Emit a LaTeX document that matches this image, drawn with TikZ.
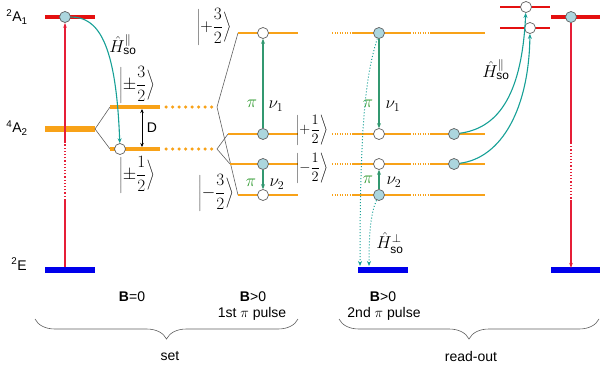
\documentclass[tikz,border=0pt]{standalone}
\usepackage{fontspec}
\setmainfont{Liberation Sans}
\usetikzlibrary{arrows.meta,decorations.pathreplacing,calc}
\pgfdeclarelayer{background}
\pgfsetlayers{background,main}
\definecolor{lvred}{RGB}{228,16,16}
\definecolor{linered}{RGB}{230,30,55}
\definecolor{lvorange}{RGB}{248,162,24}
\definecolor{lvblue}{RGB}{0,0,235}
\definecolor{socolor}{RGB}{22,160,150}
\definecolor{pigreen}{RGB}{50,152,112}
\definecolor{pitext}{RGB}{40,150,40}
\definecolor{dotfill}{RGB}{172,214,222}
\definecolor{fangray}{RGB}{95,95,95}
\begin{document}
\begin{tikzpicture}[x=1pt,y=-1pt,
  lab/.style={font=\fontsize{14}{16}\selectfont,inner sep=0pt},
  ket/.style={font=\fontsize{16}{18}\selectfont,inner sep=0pt},
  smallket/.style={font=\fontsize{14}{16}\selectfont,inner sep=0pt},
  hlab/.style={font=\fontsize{17}{19}\selectfont,inner sep=0pt},
  mlab/.style={font=\fontsize{17}{19}\selectfont,inner sep=0pt},
  fulldot/.style={circle,draw=fangray,fill=dotfill,line width=0.7pt,minimum size=11pt,inner sep=0pt},
  hollowdot/.style={fulldot,fill=white},
  redbar/.style={lvred,line width=4pt},
  bluebar/.style={lvblue,line width=6pt},
  orangebar/.style={lvorange,line width=6pt},
  levone/.style={lvorange,line width=4pt},
  bigdots/.style={lvorange,line width=3.5pt,line cap=round,dash pattern=on 0pt off 6.5pt},
  levtwo/.style={lvorange,line width=2.3pt},
  smalldots/.style={lvorange,line width=1.6pt,dash pattern=on 1pt off 1.5pt},
  fan/.style={fangray,line width=0.6pt},
  redline/.style={linered,line width=1.2pt},
  sotip/.style={-{Stealth[length=5pt,width=4pt]}},
  socurve/.style={socolor,line width=1.1pt,sotip},
  sodotted/.style={socolor,line width=1pt,dotted,sotip},
  piarrow/.style={pigreen,line width=1.1pt,-{Stealth[length=5pt,width=4pt]}},
  bracestyle/.style={fangray,line width=0.6pt,decorate,decoration={brace,mirror,amplitude=20pt,aspect=0.5}}
]
\useasboundingbox (0,0) rectangle (600,369);

% ---------- level lines (drawn underneath the state markers) ----------
\begin{pgfonlayer}{background}
  % B = 0
  \draw[redbar] (45,17) -- (95,17);
  \draw[orangebar] (45,129) -- (95,129);
  \draw[bluebar] (45,270) -- (95,270);
  \coordinate (a2) at (95,129);
  \coordinate (u1) at (110,107);
  \coordinate (l1) at (110,149);
  \draw[fan] (u1) -- (a2) -- (l1);
  \draw[levone] (u1) -- (160,107);
  \draw[bigdots] (166,107) -- (214,107);
  \draw[levone] (l1) -- (160,149);
  \draw[bigdots] (166,149) -- (214,149);

  % B > 0, first pulse
  \coordinate (f1) at (217,107);
  \coordinate (f2) at (217,149);
  \coordinate (p32) at (238,33);
  \coordinate (m32) at (238,195);
  \coordinate (p12) at (228,134);
  \coordinate (m12) at (230,164);
  \draw[fan] (p32) -- (f1) -- (m32);
  \draw[fan] (p12) -- (f2) -- (m12);
  \draw[levtwo] (p32) -- (298,33);
  \draw[levtwo] (p12) -- (298,134);
  \draw[levtwo] (m12) -- (298,164);
  \draw[levtwo] (m32) -- (298,195);

  % B > 0, second pulse
  \foreach \y in {33,134,164,195}{
    \draw[smalldots] (332,\y) -- (353,\y);
    \draw[levtwo] (353,\y) -- (410,\y);
    \draw[smalldots] (410,\y) -- (430,\y);
    \draw[levtwo] (430,\y) -- (485,\y);
  }
  \draw[bluebar] (358,270) -- (408,270);

  % read-out levels
  \draw[lvred,line width=2pt] (500,7) -- (550,7);
  \draw[lvred,line width=2pt] (500,28) -- (550,28);
  \draw[redbar] (551,17) -- (600,17);
  \draw[bluebar] (551,270) -- (600,270);
\end{pgfonlayer}

% ---------- state markers ----------
\node[fulldot] (s0) at (65,17) {};
\node[hollowdot] (s1) at (120,149) {};

\node[hollowdot] (b32) at (263,33) {};
\node[fulldot] (b12) at (263,134) {};
\node[fulldot] (bm12) at (263,164) {};
\node[hollowdot] (bm32) at (263,195) {};

\node[fulldot] (c32) at (379,33) {};
\node[hollowdot] (c12) at (379,134) {};
\node[hollowdot] (cm12) at (379,164) {};
\node[fulldot] (cm32) at (379,195) {};
\node[fulldot] (d12) at (454,134) {};
\node[fulldot] (dm12) at (454,164) {};

\node[hollowdot] (t1) at (526,7) {};
\node[hollowdot] (t2) at (530,28) {};
\node[fulldot] (r0) at (571,17) {};

% ---------- labels of the zero-field levels ----------
\node[lab] at (17,17) {\textsuperscript{2}A\textsubscript{1}};
\node[lab] at (17,128) {\textsuperscript{4}A\textsubscript{2}};
\node[lab] at (19,264) {\textsuperscript{2}E};

% ---------- optical pumping, left ----------
\coordinate (e0) at (65,267);
\coordinate (e0a) at (65,200);
\coordinate (e0b) at (65,143);
\draw[redline] (e0) -- (e0a);
\draw[redline,dotted] (e0a) -- (e0b);
\draw[redline,-{Stealth[length=5pt,width=3.5pt]}] (e0b) -- (s0);

\draw[socurve] (s0) .. controls (98,17) and (116,42) .. (s1);
\node[hlab] at (123,45) {$\hat{H}_{\mathrm{so}}^{\parallel}$};

% zero-field splitting
\coordinate (dtop) at (142,109);
\coordinate (dbot) at (142,147);
\draw[black,line width=0.8pt,{Stealth[length=4pt,width=3.5pt]}-{Stealth[length=4pt,width=3.5pt]}] (dtop) -- (dbot);
\node[lab] at (152,128) {D};

\node[ket] at (137,85) {$\displaystyle\left|\pm\frac{3}{2}\right\rangle$};
\node[ket] at (137,175) {$\displaystyle\left|\pm\frac{1}{2}\right\rangle$};

% ---------- first pi pulse ----------
\node[ket] at (214,27) {$\displaystyle\left|+\frac{3}{2}\right\rangle$};
\node[smallket] at (312,130) {$\displaystyle\left|+\frac{1}{2}\right\rangle$};
\node[smallket] at (312,168) {$\displaystyle\left|-\frac{1}{2}\right\rangle$};
\node[ket] at (216,193) {$\displaystyle\left|-\frac{3}{2}\right\rangle$};

\draw[piarrow] (b12) -- (b32);
\draw[piarrow] (bm12) -- (bm32);
\node[mlab,text=pitext] at (252,104) {$\pi$};
\node[mlab] at (276,106) {$\nu_1$};
\node[mlab,text=pitext] at (251,183) {$\pi$};
\node[mlab] at (277,184) {$\nu_2$};

% ---------- second pi pulse ----------
\draw[piarrow] (c32) -- (c12);
\draw[piarrow] (cm32) -- (cm12);
\node[mlab,text=pitext] at (368,104) {$\pi$};
\node[mlab] at (393,106) {$\nu_1$};
\node[mlab,text=pitext] at (368,180) {$\pi$};
\node[mlab] at (394,182) {$\nu_2$};

\coordinate (g1) at (360,266);
\coordinate (g2) at (369,266);
\draw[sodotted] (c32) .. controls (366,75) and (360,120) .. (g1);
\draw[sodotted] (cm32) .. controls (371,212) and (369,232) .. (g2);
\node[hlab] at (390,243) {$\hat{H}_{\mathrm{so}}^{\perp}$};

% ---------- read-out ----------
\draw[socurve] (d12) .. controls (500,128) and (522,92) .. (t1);
\draw[socurve] (dm12) .. controls (502,158) and (529,108) .. (t2);
\node[hlab] at (496,70) {$\hat{H}_{\mathrm{so}}^{\parallel}$};

\coordinate (r0a) at (571,143);
\coordinate (r0b) at (571,200);
\coordinate (e4) at (571,268);
\draw[redline] (r0) -- (r0a);
\draw[redline,dotted] (r0a) -- (r0b);
\draw[redline,-{Stealth[length=5pt,width=3.5pt]}] (r0b) -- (e4);

% ---------- field conditions and stages ----------
\node[lab] at (132,297) {\textbf{B}=0};
\node[lab] at (253,297) {\textbf{B}>0};
\node[lab] at (252,314) {1st $\pi$ pulse};
\node[lab] at (383,297) {\textbf{B}>0};
\node[lab] at (384,314) {2nd $\pi$ pulse};

\coordinate (sa) at (35,319);
\coordinate (sb) at (298,319);
\coordinate (ra) at (339,319);
\coordinate (rb) at (599,319);
\draw[bracestyle] (sa) -- (sb);
\draw[bracestyle] (ra) -- (rb);
\node[lab] at (170,356) {set};
\node[lab] at (471,356) {read-out};
\end{tikzpicture}
\end{document}
